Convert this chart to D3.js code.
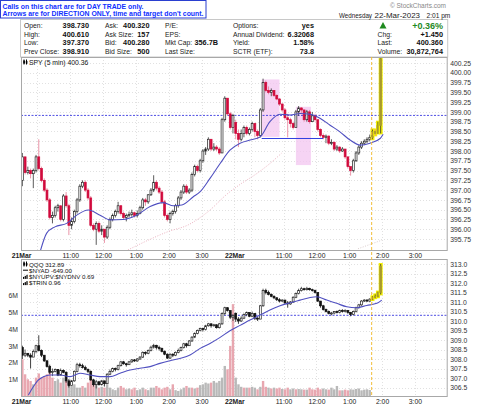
<!DOCTYPE html>
<html>
<head>
<meta charset="utf-8">
<script src="https://cdn.jsdelivr.net/npm/d3@7"></script>
<style>
  body { margin: 0; background: #fff; }
  svg { display: block; }
  text { font-family: "Liberation Sans", Arial, sans-serif; }
</style>
</head>
<body>
<svg width="480" height="406"></svg>
<script>
// 5-minute bars, 21 Mar 9:30 .. 15:55 (78 bars) then 22 Mar 9:30 .. 14:00 (54 bars)
var spyFirstOpen = 397.25, spyDayTwoOpen = 398.73;
var spyClose = [397.85,397.45,397.5,397.42,397.5,397.85,397.55,397.25,397.0,396.75,
  396.3,396.35,396.55,396.6,396.25,396.85,396.6,396.1,396.2,396.45,
  396.75,397.1,397.2,397.0,396.8,396.1,396.0,396.15,395.95,396.0,
  395.8,396.05,396.25,396.35,396.45,396.6,396.4,396.3,396.35,396.38,
  396.42,396.35,396.4,396.55,396.75,396.7,396.88,397.0,397.2,397.05,
  396.95,396.7,396.35,396.25,396.4,396.45,396.6,396.8,396.95,397.1,
  396.95,397.0,397.4,397.6,397.5,397.75,398.0,398.05,398.3,398.05,
  398.1,398.05,397.95,398.8,399.35,398.95,398.6,398.91,
  // 22 Mar
  398.45,398.3,398.45,398.6,398.45,398.55,398.7,398.5,398.4,399.05,
  399.75,399.55,399.5,399.55,399.42,399.33,399.2,399.05,398.85,398.8,
  398.7,398.6,399.0,399.1,399.05,398.8,399.0,398.75,398.9,398.8,
  398.55,398.4,398.35,398.38,398.2,398.22,398.05,398.1,398.0,398.05,
  397.85,397.6,397.5,397.75,397.95,398.1,398.2,398.25,398.3,398.35,
  398.5,398.45,398.65,400.36];
var spyHigh = [397.95,397.85,397.6,397.55,397.55,397.9,398.3,397.6,397.3,397.05,
  396.8,396.45,396.6,396.65,396.6,396.9,396.95,396.65,396.3,396.5,
  396.8,397.15,397.25,397.25,397.05,396.85,396.15,396.2,396.2,396.1,
  396.0,396.1,396.3,396.4,396.5,396.7,396.62,396.45,396.4,396.45,
  396.5,396.45,396.48,396.6,396.8,396.8,396.9,397.05,397.38,397.25,
  397.1,397.0,396.75,396.4,396.45,396.5,396.65,396.85,397.0,397.15,
  397.15,397.05,397.45,397.65,397.65,397.8,398.05,398.1,398.35,398.3,
  398.2,398.15,398.1,398.85,399.4,399.35,399.0,398.95,
  398.8,398.55,398.55,398.65,398.65,398.6,398.75,398.72,398.55,399.1,
  399.85,399.8,399.65,399.6,399.55,399.45,399.35,399.22,399.1,398.95,
  398.85,398.75,399.05,399.15,399.12,399.05,399.05,399.05,399.0,398.95,
  398.8,398.58,398.45,398.42,398.4,398.3,398.25,398.15,398.12,398.1,
  398.05,397.85,397.6,397.8,398.0,398.15,398.25,398.3,398.35,398.42,
  398.55,398.55,398.75,400.61];
var spyLow = [397.1,397.4,397.4,397.3,397.05,397.45,397.5,397.2,396.95,396.7,
  396.25,396.15,396.3,396.45,396.2,396.2,396.55,395.85,396.0,396.15,
  396.4,396.7,397.05,396.95,396.75,396.05,395.95,395.6,395.9,395.85,
  395.65,395.75,396.0,396.2,396.3,396.4,396.35,396.25,396.2,396.3,
  396.32,396.3,396.3,396.38,396.5,396.6,396.65,396.85,396.95,397.0,
  396.9,396.65,396.3,396.2,396.15,396.35,396.4,396.55,396.75,396.9,
  396.9,396.9,396.95,397.35,397.45,397.45,397.7,397.9,398.0,398.0,
  398.0,398.0,397.9,397.95,398.75,398.9,398.55,398.45,
  398.3,398.1,398.25,398.35,398.4,398.4,398.5,398.35,398.3,398.35,
  399.0,399.5,399.45,399.4,399.38,399.3,399.15,399.0,398.8,398.35,
  398.6,398.55,398.6,398.9,398.95,398.75,398.75,398.7,398.85,398.75,
  398.5,398.35,398.3,398.2,398.15,398.15,398.0,398.0,397.95,397.98,
  397.8,397.55,397.37,397.45,397.72,397.9,398.05,398.15,398.2,398.25,
  398.3,398.4,398.45,398.45];

var qqqFirstOpen = 308.6, qqqDayTwoOpen = 310.4;
var qqqClose = [308.2,308.3,308.2,308.1,308.4,308.7,308.45,308.2,307.9,307.6,
  307.3,307.35,307.45,307.15,307.4,307.3,306.85,306.6,306.85,307.35,
  307.7,307.65,307.55,307.45,307.35,306.9,306.65,306.8,306.65,306.85,
  306.7,307.2,307.35,307.5,307.45,307.65,307.85,307.75,307.7,307.85,
  307.95,307.9,308.0,308.1,308.35,308.3,308.45,308.62,308.72,308.6,
  308.55,308.4,308.25,308.05,308.25,308.2,308.35,308.45,308.6,308.8,
  308.7,308.95,309.15,309.35,309.5,309.6,309.55,309.75,309.85,309.75,
  309.8,309.65,309.85,310.4,310.7,310.55,310.2,310.3,
  310.1,310.0,310.15,310.35,310.45,310.25,310.4,310.15,310.1,310.8,
  311.6,311.5,311.4,311.3,311.22,311.12,311.05,311.1,310.95,310.9,
  311.0,311.25,311.45,311.6,311.7,311.65,311.72,311.65,311.6,311.5,
  311.05,310.8,310.6,310.5,310.4,310.42,310.5,310.45,310.55,310.5,
  310.55,310.45,310.35,310.5,310.7,310.85,311.05,311.1,311.05,311.15,
  311.25,311.3,311.5,312.89];
var qqqHigh = [308.7,308.5,308.3,308.3,308.5,308.75,309.25,308.5,308.2,307.95,
  307.7,307.5,307.5,307.45,307.5,307.45,307.35,306.95,306.9,307.4,
  307.8,307.8,307.75,307.65,307.5,307.4,306.95,306.9,306.85,306.9,
  306.85,307.25,307.45,307.55,307.55,307.7,307.9,307.9,307.8,307.9,
  308.0,308.0,308.05,308.15,308.4,308.4,308.5,308.7,308.8,308.75,
  308.7,308.6,308.45,308.3,308.3,308.3,308.4,308.55,308.65,308.85,
  308.85,309.0,309.2,309.4,309.55,309.65,309.65,309.8,309.9,309.88,
  309.85,309.82,309.9,310.45,310.75,310.72,310.55,310.35,
  310.45,310.2,310.25,310.4,310.5,310.45,310.5,310.4,310.2,310.85,
  311.7,311.7,311.6,311.45,311.35,311.25,311.2,311.15,311.12,311.05,
  311.05,311.3,311.5,311.7,311.8,311.75,311.8,311.75,311.7,311.65,
  311.5,311.05,310.85,310.65,310.55,310.48,310.52,310.55,310.6,310.62,
  310.62,310.58,310.48,310.55,310.75,310.9,311.1,311.15,311.15,311.2,
  311.3,311.4,311.55,313.0];
var qqqLow = [308.0,308.1,308.1,307.5,308.2,308.3,308.4,308.1,307.85,307.55,
  307.2,307.1,307.3,307.1,307.2,307.25,306.75,306.5,306.6,306.8,
  307.3,307.55,307.5,307.4,307.25,306.85,306.55,306.45,306.6,306.6,
  306.55,306.7,307.15,307.3,307.35,307.4,307.6,307.7,307.6,307.7,
  307.8,307.85,307.85,307.95,308.05,308.2,308.25,308.4,308.55,308.5,
  308.45,308.35,308.2,308.0,308.0,308.1,308.15,308.3,308.4,308.55,
  308.6,308.7,308.9,309.1,309.3,309.45,309.45,309.5,309.7,309.65,
  309.7,309.6,309.6,309.8,310.3,310.5,310.1,310.0,
  309.95,309.85,309.95,310.1,310.25,310.2,310.2,310.05,310.0,310.1,
  310.75,311.4,311.35,311.25,311.15,311.05,310.98,311.0,310.9,310.7,
  310.85,310.95,311.2,311.4,311.55,311.6,311.6,311.6,311.55,311.45,
  311.0,310.7,310.55,310.45,310.35,310.3,310.35,310.4,310.4,310.45,
  310.45,310.38,310.25,310.3,310.45,310.65,310.8,311.0,311.0,311.0,
  311.1,311.2,311.25,311.4];

// volume in millions, and 1 where the bar is drawn as a down (pink) bar
var volume = [2.2,1.3,1.0,0.9,0.7,1.1,1.35,1.1,1.2,1.3,
  1.4,1.1,0.9,1.0,0.8,1.1,0.9,0.8,0.6,0.7,
  0.5,0.5,0.6,0.5,0.8,1.0,0.7,0.7,0.5,0.55,
  0.5,0.7,0.5,0.4,0.35,0.5,0.6,0.5,0.4,0.45,
  0.4,0.5,0.35,0.4,0.5,0.4,0.35,0.5,0.5,0.6,
  0.5,0.4,0.5,0.55,0.4,0.7,0.35,0.3,0.4,0.5,
  0.6,0.5,0.5,0.45,0.5,0.65,0.7,0.8,0.75,0.8,
  0.9,0.8,0.9,1.1,1.8,1.6,3.0,5.5,
  1.1,0.7,0.55,0.5,0.5,0.5,0.55,0.5,0.4,0.55,
  0.9,0.55,0.5,0.45,0.5,0.45,0.5,0.42,0.4,0.5,
  0.4,0.45,0.4,0.42,0.4,0.38,0.38,0.5,0.4,0.38,
  0.5,0.4,0.45,0.4,0.38,0.5,0.4,0.6,0.34,0.34,
  0.38,0.34,0.4,0.38,0.42,0.45,0.34,0.38,0.4,0.36,
  0,0,0,0];
var volDown = [1,1,1,1,0,1,1,1,1,1, 1,1,0,0,1,0,1,0,0,0, 0,0,1,0,1,1,1,0,1,0,
  1,0,0,0,0,0,1,1,0,0, 1,1,0,0,0,1,0,0,0,1, 1,1,1,1,0,1,0,0,0,0,
  1,0,1,0,1,0,0,0,0,1, 0,0,0,0,0,1,1,1,
  0,0,0,1,0,1,0,0,1,0, 1,1,0,1,0,1,1,0,1,1, 0,0,1,0,0,1,0,1,1,1,
  1,1,0,0,1,0,0,0,1,0, 1,1,0,0,0,0,0,0,0,0, 0,0,0,0];

// moving averages (bar index, value)
var spyMaBar = [6.4,8.9,11.9,16.2,19.9,24.1,28.4,32,36.8,41.8,46.7,51.5,55.2,58.3,62.5,65,68.6,72.3,75.9,
  79.6,83.2,86.9,90.5,94.2,97.9,101.5,105.2,108.8,112.5,116.1,119.8,123.5,127.1,130.8,131.9];
var spyMa = [395.4,395.9,396.06,396.15,396.36,396.49,396.36,396.24,396.25,396.36,396.58,396.68,396.6,396.62,396.83,396.96,397.3,397.68,398.02,
  398.2,398.28,398.36,398.75,398.94,398.92,398.96,398.94,398.84,398.66,398.49,398.28,398.15,398.2,398.32,398.43];
var spyLongMaBar = [38.6,46,53.3,60.6,67.9,75.2,80.1,85,89.8,94.7];
var spyLongMa = [395.47,395.72,395.94,396.11,396.45,396.92,397.17,397.39,397.64,397.94];
var spySlowMaBar = [122.7,131.4];
var spySlowMa = [395.5,395.72];
var qqqMaBar = [2.2,4,5.8,7.7,10.1,13.8,17.4,21.1,24.7,28.4,32,35.7,39.4,43,46.7,50.3,54,57.6,61.3,65,68.6,72.3,75.9,
  79.6,83.2,86.9,90.5,94.2,97.9,101.5,105.2,107.6,111.3,114.9,118.6,122.2,125.9,129.6,131.4];
var qqqMa = [306.1,306.54,306.89,307.07,307.16,307.16,307.07,307.25,307.16,307.07,307.07,307.25,307.42,307.51,307.6,307.77,307.91,308.03,308.21,308.56,308.82,309.14,309.49,
  309.77,310.05,310.31,310.58,310.8,310.96,311.1,311.24,311.28,311.1,310.93,310.75,310.7,310.82,310.93,311.1];

var spyPrevClose = 398.91, qqqPrevClose = 310.3;
var zoneBars = [[87.5, 94], [100, 105.5]];
var zonePrices = [[398.36, 399.83], [397.64, 399.13]];
var supportBars = [87.5, 110], supportPrice = 398.32;
var callBar = 128.2, highlightFrom = 128;

var tickBars = [0, 18, 30, 42, 54, 66, 78, 96, 108, 120, 132, 144];
var tickLabels = ["21Mar", "11:00", "12:00", "1:00", "2:00", "3:00", "22Mar", "11:00", "12:00", "1:00", "2:00", "3:00"];
var gridBars = [0, 6, 18, 30, 42, 54, 66, 78, 84, 96, 108, 120, 132, 144];

var quoteLabels = [["Open:", "High:", "Low:", "Prev Close:"], ["Ask:", "Ask Size:", "Bid:", "Bid Size:"],
  ["P/E:", "EPS:", "Mkt Cap:", "Last Size:"], ["Options:", "Annual Dividend:", "Yield:", "SCTR (ETF):"],
  ["", "Chg:", "Last:", "Volume:"]];
var quoteValues = [["398.730", "400.610", "397.370", "398.910"], ["400.320", "157", "400.280", "500"],
  ["", "", "356.7B", ""], ["yes", "6.32068", "1.58%", "73.8"], ["", "+1.450", "400.360", "30,872,764"]];
var dateParts = ["Wednesday", "22-Mar-2023", "2:01 pm"];

var svg = d3.select("svg");
var L = 21, R = 447.7;
var x = d3.scaleLinear().domain([0, 156]).range([L, R]);
var yTop = d3.scaleLinear().domain([395.75, 400.25]).range([239, 63]);
var yBot = d3.scaleLinear().domain([306.5, 313]).range([387.5, 264]);
var yVol = d3.scaleLinear().domain([0, 6]).range([396, 295.8]);
var topBox = {y0: 57, y1: 250}, botBox = {y0: 259, y1: 396};

function bars(o0, o1, c, h, l) {
  return c.map(function(close, i) {
    var open = i === 0 ? o0 : i === 78 ? o1 : c[i - 1];
    return {i: i, o: open, c: close, h: Math.max(h[i], open, close), l: Math.min(l[i], open, close)};
  });
}
var spy = bars(spyFirstOpen, spyDayTwoOpen, spyClose, spyHigh, spyLow);
var qqq = bars(qqqFirstOpen, qqqDayTwoOpen, qqqClose, qqqHigh, qqqLow);

var defs = svg.append("defs");
defs.append("clipPath").attr("id", "clipTop").append("rect")
  .attr("x", L).attr("y", topBox.y0).attr("width", R - L).attr("height", topBox.y1 - topBox.y0);
defs.append("clipPath").attr("id", "clipBot").append("rect")
  .attr("x", L).attr("y", botBox.y0).attr("width", R - L).attr("height", botBox.y1 - botBox.y0);

// ---- notice box + quote table ----
svg.append("rect").attr("x", 20.5).attr("y", 19.5).attr("width", R - 20.5).attr("height", topBox.y0 - 19.5)
  .attr("fill", "#fff").attr("stroke", "#c8c8c8");
svg.append("text").attr("x", 446).attr("y", 8).attr("text-anchor", "end")
  .attr("font-size", 6.5).attr("fill", "#888").text("\u00a9 StockCharts.com");
[[339, 33], [374.5, 45.5], [426.5, 0]].forEach(function(p, k) {
  var t = svg.append("text").attr("x", p[0]).attr("y", 18).attr("font-size", 6.6).attr("fill", "#222").text(dateParts[k]);
  if (p[1]) t.attr("textLength", p[1]).attr("lengthAdjust", "spacingAndGlyphs");
});
var rowY = [27.5, 36.5, 45, 54], colLabelX = [24, 105, 165, 233, 377.5], colValueX = [89, 149.5, 218, 314, 443];
quoteLabels.forEach(function(col, ci) {
  col.forEach(function(t, ri) {
    svg.append("text").attr("x", colLabelX[ci]).attr("y", rowY[ri]).attr("font-size", 6.8).attr("fill", "#222").text(t);
    svg.append("text").attr("x", colValueX[ci]).attr("y", rowY[ri]).attr("text-anchor", "end")
      .attr("font-size", 7.3).attr("font-weight", "bold").attr("fill", "#111").text(quoteValues[ci][ri]);
  });
});
svg.append("path").attr("d", "M379.5,28.5 L383,22 L386.5,28.5 Z").attr("fill", "#1f8a1f");
svg.append("text").attr("x", 443).attr("y", 28.5).attr("text-anchor", "end").attr("font-size", 9)
  .attr("font-weight", "bold").attr("fill", "#1f8a1f").text("+0.36%");

svg.append("rect").attr("x", 0.5).attr("y", 0.5).attr("width", 205.5).attr("height", 17.5)
  .attr("fill", "#fff").attr("stroke", "#2a3fd0");
svg.append("text").attr("x", 2.5).attr("y", 8.6).attr("font-size", 7.6).attr("font-weight", "bold")
  .attr("fill", "#1030ff").attr("textLength", 141).attr("lengthAdjust", "spacingAndGlyphs")
  .text("Calls on this chart are for DAY TRADE only.");
svg.append("text").attr("x", 2.5).attr("y", 16.2).attr("font-size", 7.6).attr("font-weight", "bold")
  .attr("fill", "#1030ff").attr("textLength", 201).attr("lengthAdjust", "spacingAndGlyphs")
  .text("Arrows are for DIRECTION ONLY, time and target don't count.");

// ---- panels ----
function panel(box, yScale, ticks, fmt, clip) {
  var g = svg.append("g");
  g.append("rect").attr("x", L).attr("y", box.y0).attr("width", R - L).attr("height", box.y1 - box.y0).attr("fill", "#fff");
  var grid = g.append("g").attr("stroke", "#d9d9d9").attr("stroke-dasharray", "1,2").attr("stroke-width", 0.8);
  grid.selectAll(".h").data(ticks).join("line")
    .attr("x1", L).attr("x2", R).attr("y1", function(d) { return Math.round(yScale(d)) + 0.5; })
    .attr("y2", function(d) { return Math.round(yScale(d)) + 0.5; });
  grid.selectAll(".v").data(gridBars).join("line")
    .attr("y1", box.y0).attr("y2", box.y1)
    .attr("x1", function(d) { return Math.round(x(d)) + 0.5; }).attr("x2", function(d) { return Math.round(x(d)) + 0.5; });
  var ax = svg.append("g").attr("transform", "translate(" + R + ",0)")
    .call(d3.axisRight(yScale).tickValues(ticks).tickFormat(d3.format(fmt)).tickSize(0).tickPadding(2.5));
  ax.select(".domain").remove();
  ax.selectAll("text").attr("font-size", 6.8).attr("fill", "#333").attr("font-family", "Liberation Sans, Arial, sans-serif");
  return g.append("g").attr("clip-path", "url(#" + clip + ")");
}

function candles(g, data, yScale, downFill, wickDown) {
  var w = 1.9;
  data.forEach(function(b) {
    var cx = x(b.i + 0.5), down = b.c < b.o;
    var hi = b.i >= highlightFrom;
    if (hi) {
      g.append("rect").attr("x", cx - 2).attr("width", 4)
        .attr("y", yScale(b.h) - 1).attr("height", yScale(b.l) - yScale(b.h) + 2).attr("fill", "#f4f000");
    }
    g.append("line").attr("x1", cx).attr("x2", cx).attr("y1", yScale(b.h)).attr("y2", yScale(b.l))
      .attr("stroke", down ? wickDown : "#333").attr("stroke-width", 0.8);
    var top = yScale(Math.max(b.o, b.c)), h = Math.max(0.9, Math.abs(yScale(b.o) - yScale(b.c)));
    g.append("rect").attr("x", cx - w / 2).attr("y", top).attr("width", w).attr("height", h)
      .attr("fill", hi ? "#a89a2e" : down ? downFill : "#fff")
      .attr("stroke", hi ? "#a89a2e" : down ? downFill : "#222").attr("stroke-width", 0.7);
  });
}

function lineOf(g, bs, vs, yScale, color, width, dash) {
  var pts = bs.map(function(b, k) { return [x(b + 0.5), yScale(vs[k])]; });
  g.append("path").attr("d", d3.line().curve(d3.curveMonotoneX)(pts)).attr("fill", "none")
    .attr("stroke", color).attr("stroke-width", width).attr("stroke-dasharray", dash || null);
}

// top: SPY
var topTicks = d3.range(0, 19).map(function(k) { return 395.75 + k * 0.25; });
var gt = panel(topBox, yTop, topTicks, ".2f", "clipTop");
zoneBars.forEach(function(z, k) {
  gt.append("rect").attr("x", x(z[0] + 0.5)).attr("width", x(z[1] + 0.5) - x(z[0] + 0.5))
    .attr("y", yTop(zonePrices[k][1])).attr("height", yTop(zonePrices[k][0]) - yTop(zonePrices[k][1]))
    .attr("fill", "#f3c6f0").attr("opacity", 0.75);
});
gt.append("line").attr("x1", L).attr("x2", R).attr("y1", yTop(spyPrevClose)).attr("y2", yTop(spyPrevClose))
  .attr("stroke", "#3a3ae0").attr("stroke-width", 0.9).attr("stroke-dasharray", "2,1.5");
lineOf(gt, spyLongMaBar, spyLongMa, yTop, "#e8a8b8", 0.9, "1,1.5");
lineOf(gt, spySlowMaBar, spySlowMa, yTop, "#d8c8c8", 0.9, "1,1.5");
candles(gt, spy, yTop, "#d10a3c", "#e57a92");
lineOf(gt, spyMaBar, spyMa, yTop, "#5050c0", 1.1);
gt.append("line").attr("x1", x(supportBars[0] + 0.5)).attr("x2", x(supportBars[1] + 0.5))
  .attr("y1", yTop(supportPrice)).attr("y2", yTop(supportPrice)).attr("stroke", "#2f3fe0").attr("stroke-width", 1);

// bottom: QQQ with volume
var botTicks = d3.range(0, 14).map(function(k) { return 306.5 + k * 0.5; });
var gb = panel(botBox, yBot, botTicks, ".1f", "clipBot");
volume.forEach(function(v, i) {
  if (!v) return;
  gb.append("rect").attr("x", x(i + 0.5) - 1.2).attr("width", 2.4)
    .attr("y", yVol(v)).attr("height", yVol(0) - yVol(v))
    .attr("fill", volDown[i] ? "#e8a7b0" : "#b9b9b9");
});
gb.append("line").attr("x1", L).attr("x2", R).attr("y1", yBot(qqqPrevClose)).attr("y2", yBot(qqqPrevClose))
  .attr("stroke", "#3a3ae0").attr("stroke-width", 0.9).attr("stroke-dasharray", "2,1.5");
candles(gb, qqq, yBot, "#111", "#111");
lineOf(gb, qqqMaBar, qqqMa, yBot, "#5050c0", 1.1);

var va = svg.append("g").attr("transform", "translate(" + L + ",0)")
  .call(d3.axisLeft(yVol).tickValues([1, 2, 3, 4, 5, 6]).tickFormat(function(d) { return d + "M"; }).tickSize(0).tickPadding(3));
va.select(".domain").remove();
va.selectAll("text").attr("font-size", 6.8).attr("fill", "#333").attr("font-family", "Liberation Sans, Arial, sans-serif");

// borders
[topBox, botBox].forEach(function(b) {
  svg.append("rect").attr("x", L + 0.5).attr("y", b.y0 + 0.5).attr("width", R - L - 1).attr("height", b.y1 - b.y0)
    .attr("fill", "none").attr("stroke", "#a8a8a8");
});

// call time marker
svg.append("line").attr("x1", x(callBar)).attr("x2", x(callBar)).attr("y1", topBox.y0).attr("y2", botBox.y1)
  .attr("stroke", "#f2be3a").attr("stroke-width", 1).attr("stroke-dasharray", "3,2");

// time axes
[topBox.y1, botBox.y1].forEach(function(yy) {
  var ta = svg.append("g").attr("transform", "translate(0," + yy + ")")
    .call(d3.axisBottom(x).tickValues(tickBars).tickFormat(function(d, k) { return tickLabels[k]; }).tickSize(0).tickPadding(3));
  ta.select(".domain").remove();
  ta.selectAll("text").attr("font-size", 6.8).attr("fill", "#222").attr("font-family", "Liberation Sans, Arial, sans-serif")
    .attr("font-weight", function(d, k) { return tickLabels[k].indexOf("Mar") > 0 ? "bold" : null; });
});

// legends
function legendIcon(xx, yy, kind) {
  if (kind === "candle") {
    svg.append("line").attr("x1", xx + 1).attr("x2", xx + 1).attr("y1", yy - 5).attr("y2", yy).attr("stroke", "#000");
    svg.append("rect").attr("x", xx + 0.3).attr("y", yy - 4).attr("width", 1.6).attr("height", 3).attr("fill", "#000");
    svg.append("line").attr("x1", xx + 3.5).attr("x2", xx + 3.5).attr("y1", yy - 5).attr("y2", yy).attr("stroke", "#000");
    svg.append("rect").attr("x", xx + 2.8).attr("y", yy - 3.5).attr("width", 1.6).attr("height", 2.5).attr("fill", "#000");
  } else if (kind === "line") {
    svg.append("line").attr("x1", xx).attr("x2", xx + 5).attr("y1", yy - 2.5).attr("y2", yy - 2.5).attr("stroke", "#000");
  } else {
    [0, 1.7, 3.4].forEach(function(o, k) {
      svg.append("rect").attr("x", xx + o).attr("y", yy - 2 - k).attr("width", 1.2).attr("height", 2 + k).attr("fill", "#000");
    });
  }
}
legendIcon(23, 64.5, "candle");
svg.append("text").attr("x", 29).attr("y", 64.5).attr("font-size", 6.8).attr("fill", "#111").text("SPY (5 min) 400.36");
var legs = [["candle", "QQQ 312.89"], ["line", "$NYAD -649.00"], ["bar", "$NYUPV:$NYDNV 0.69"], ["bar", "$TRIN 0.96"]];
legs.forEach(function(d, k) {
  var yy = 266.5 + k * 6.2;
  legendIcon(23, yy, d[0]);
  svg.append("text").attr("x", 29).attr("y", yy).attr("font-size", 6.2).attr("fill", "#111").text(d[1]);
});
</script>
</body>
</html>
